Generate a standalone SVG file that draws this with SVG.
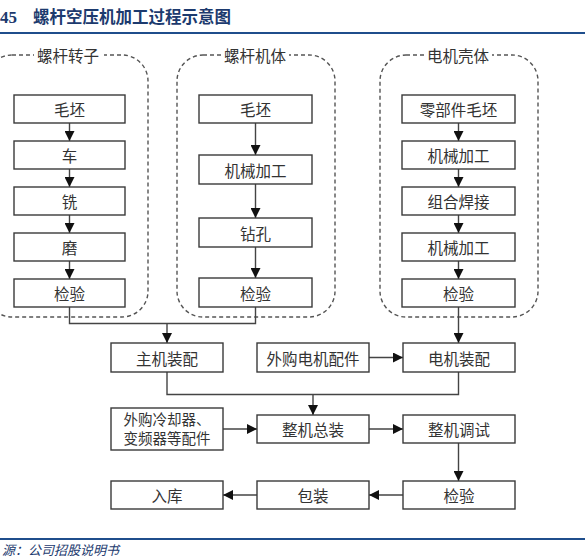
<svg xmlns="http://www.w3.org/2000/svg" width="585" height="560" viewBox="0 0 585 560">
<defs>
<marker id="ah" viewBox="0 0 10 10" refX="10" refY="5" markerWidth="10" markerHeight="10" markerUnits="userSpaceOnUse" orient="auto">
<path d="M0,0 L10,5 L0,10 Z" fill="#111"/>
</marker>
<style>
.box{fill:#fff;stroke:#3a3a3a;stroke-width:1.4}
.grp{fill:none;stroke:#555;stroke-width:1.4;stroke-dasharray:4 3}
.t{font-family:"Noto Sans CJK SC","Noto Sans",sans-serif;font-size:15.5px;fill:#333;text-anchor:middle;dominant-baseline:central}
.t2{font-family:"Noto Sans CJK SC","Noto Sans",sans-serif;font-size:14.5px;fill:#333;text-anchor:middle}
.g{font-family:"Noto Sans CJK SC","Noto Sans",sans-serif;font-size:15.5px;fill:#333;text-anchor:middle;dominant-baseline:central}
.c{fill:none;stroke:#444;stroke-width:1.4}
.ca{fill:none;stroke:#444;stroke-width:1.4;marker-end:url(#ah)}
</style>
</defs>
<rect width="585" height="560" fill="#fff"/>
<g id="title">
<text x="0" y="23" font-family="Liberation Serif,serif" font-weight="bold" font-size="17" fill="#1c3a6e">45</text>
<text x="33" y="23" font-family="Noto Sans CJK SC,sans-serif" font-weight="bold" font-size="16.5" fill="#1c3a6e">螺杆空压机加工过程示意图</text>
<line x1="0" y1="33" x2="585" y2="33" stroke="#1f4e8c" stroke-width="2"/>
</g>
<g id="groups">
<g id="grp-rotor">
<rect class="grp" x="-14" y="55" width="162" height="262" rx="26"/>
<rect x="34" y="46" width="70" height="18" fill="#fff"/>
<text class="g" x="68" y="55">螺杆转子</text>
</g>
<g id="grp-body">
<rect class="grp" x="177" y="55" width="158" height="262" rx="26"/>
<rect x="221" y="46" width="68" height="18" fill="#fff"/>
<text class="g" x="255" y="55">螺杆机体</text>
</g>
<g id="grp-motor">
<rect class="grp" x="380" y="55" width="158" height="262" rx="26"/>
<rect x="424" y="46" width="68" height="18" fill="#fff"/>
<text class="g" x="458" y="55">电机壳体</text>
</g>
</g>
<g id="connectors">
<line class="ca" x1="69.5" y1="123" x2="69.5" y2="141"/>
<line class="ca" x1="69.5" y1="169" x2="69.5" y2="187"/>
<line class="ca" x1="69.5" y1="215" x2="69.5" y2="233"/>
<line class="ca" x1="69.5" y1="261" x2="69.5" y2="279"/>
<line class="ca" x1="255.5" y1="123" x2="255.5" y2="155"/>
<line class="ca" x1="255.5" y1="184" x2="255.5" y2="218"/>
<line class="ca" x1="255.5" y1="247" x2="255.5" y2="278"/>
<line class="ca" x1="458.5" y1="123" x2="458.5" y2="141"/>
<line class="ca" x1="458.5" y1="169" x2="458.5" y2="187"/>
<line class="ca" x1="458.5" y1="215" x2="458.5" y2="233"/>
<line class="ca" x1="458.5" y1="261" x2="458.5" y2="279"/>
<polyline class="c" points="69.5,307 69.5,323.5 255.5,323.5 255.5,307"/>
<line class="ca" x1="167" y1="323.5" x2="167" y2="343"/>
<line class="ca" x1="458.5" y1="307" x2="458.5" y2="343"/>
<line class="ca" x1="369" y1="357.5" x2="403" y2="357.5"/>
<polyline class="c" points="167,372 167,394.5 458.5,394.5 458.5,372"/>
<line class="ca" x1="313" y1="394.5" x2="313" y2="415"/>
<line class="ca" x1="223" y1="429" x2="257" y2="429"/>
<line class="ca" x1="369" y1="429" x2="403" y2="429"/>
<line class="ca" x1="458.5" y1="443" x2="458.5" y2="481"/>
<line class="ca" x1="403" y1="495" x2="369" y2="495"/>
<line class="ca" x1="257" y1="495" x2="223" y2="495"/>
</g>
<g id="r1"><rect class="box" x="14" y="95" width="111" height="28"/><text class="t" x="69.5" y="109">毛坯</text></g>
<g id="r2"><rect class="box" x="14" y="141" width="111" height="28"/><text class="t" x="69.5" y="155">车</text></g>
<g id="r3"><rect class="box" x="14" y="187" width="111" height="28"/><text class="t" x="69.5" y="201">铣</text></g>
<g id="r4"><rect class="box" x="14" y="233" width="111" height="28"/><text class="t" x="69.5" y="247">磨</text></g>
<g id="r5"><rect class="box" x="14" y="279" width="111" height="28"/><text class="t" x="69.5" y="293">检验</text></g>
<g id="b1"><rect class="box" x="199" y="95" width="113" height="28"/><text class="t" x="255.5" y="109">毛坯</text></g>
<g id="b2"><rect class="box" x="199" y="155" width="113" height="29"/><text class="t" x="255.5" y="169.5">机械加工</text></g>
<g id="b3"><rect class="box" x="199" y="218" width="113" height="29"/><text class="t" x="255.5" y="232.5">钻孔</text></g>
<g id="b4"><rect class="box" x="199" y="278" width="113" height="29"/><text class="t" x="255.5" y="292.5">检验</text></g>
<g id="m1"><rect class="box" x="402" y="95" width="113" height="28"/><text class="t" x="458.5" y="109">零部件毛坯</text></g>
<g id="m2"><rect class="box" x="402" y="141" width="113" height="28"/><text class="t" x="458.5" y="155">机械加工</text></g>
<g id="m3"><rect class="box" x="402" y="187" width="113" height="28"/><text class="t" x="458.5" y="201">组合焊接</text></g>
<g id="m4"><rect class="box" x="402" y="233" width="113" height="28"/><text class="t" x="458.5" y="247">机械加工</text></g>
<g id="m5"><rect class="box" x="402" y="279" width="113" height="28"/><text class="t" x="458.5" y="293">检验</text></g>
<g id="main-asm"><rect class="box" x="111" y="343" width="112" height="29"/><text class="t" x="167" y="357.5">主机装配</text></g>
<g id="ext-motor"><rect class="box" x="257" y="343" width="112" height="29"/><text class="t" x="313" y="357.5">外购电机配件</text></g>
<g id="motor-asm"><rect class="box" x="403" y="343" width="112" height="29"/><text class="t" x="459" y="357.5">电机装配</text></g>
<g id="ext-cool"><rect class="box" x="111" y="408" width="112" height="42"/><text class="t2" x="167" y="425">外购冷却器、</text><text class="t2" x="167" y="444">变频器等配件</text></g>
<g id="final-asm"><rect class="box" x="257" y="415" width="112" height="28"/><text class="t" x="313" y="429">整机总装</text></g>
<g id="debug"><rect class="box" x="403" y="415" width="112" height="28"/><text class="t" x="459" y="429">整机调试</text></g>
<g id="inspect"><rect class="box" x="403" y="481" width="112" height="28"/><text class="t" x="459" y="495">检验</text></g>
<g id="pack"><rect class="box" x="257" y="481" width="112" height="28"/><text class="t" x="313" y="495">包装</text></g>
<g id="store"><rect class="box" x="111" y="481" width="112" height="28"/><text class="t" x="167" y="495">入库</text></g>
<g id="footer">
<line x1="0" y1="539" x2="585" y2="539" stroke="#1f4e8c" stroke-width="2"/>
<text x="2" y="555" font-family="Noto Sans CJK SC,sans-serif" font-style="italic" font-size="13" fill="#1c3a6e">源：公司招股说明书</text>
</g>
</svg>
